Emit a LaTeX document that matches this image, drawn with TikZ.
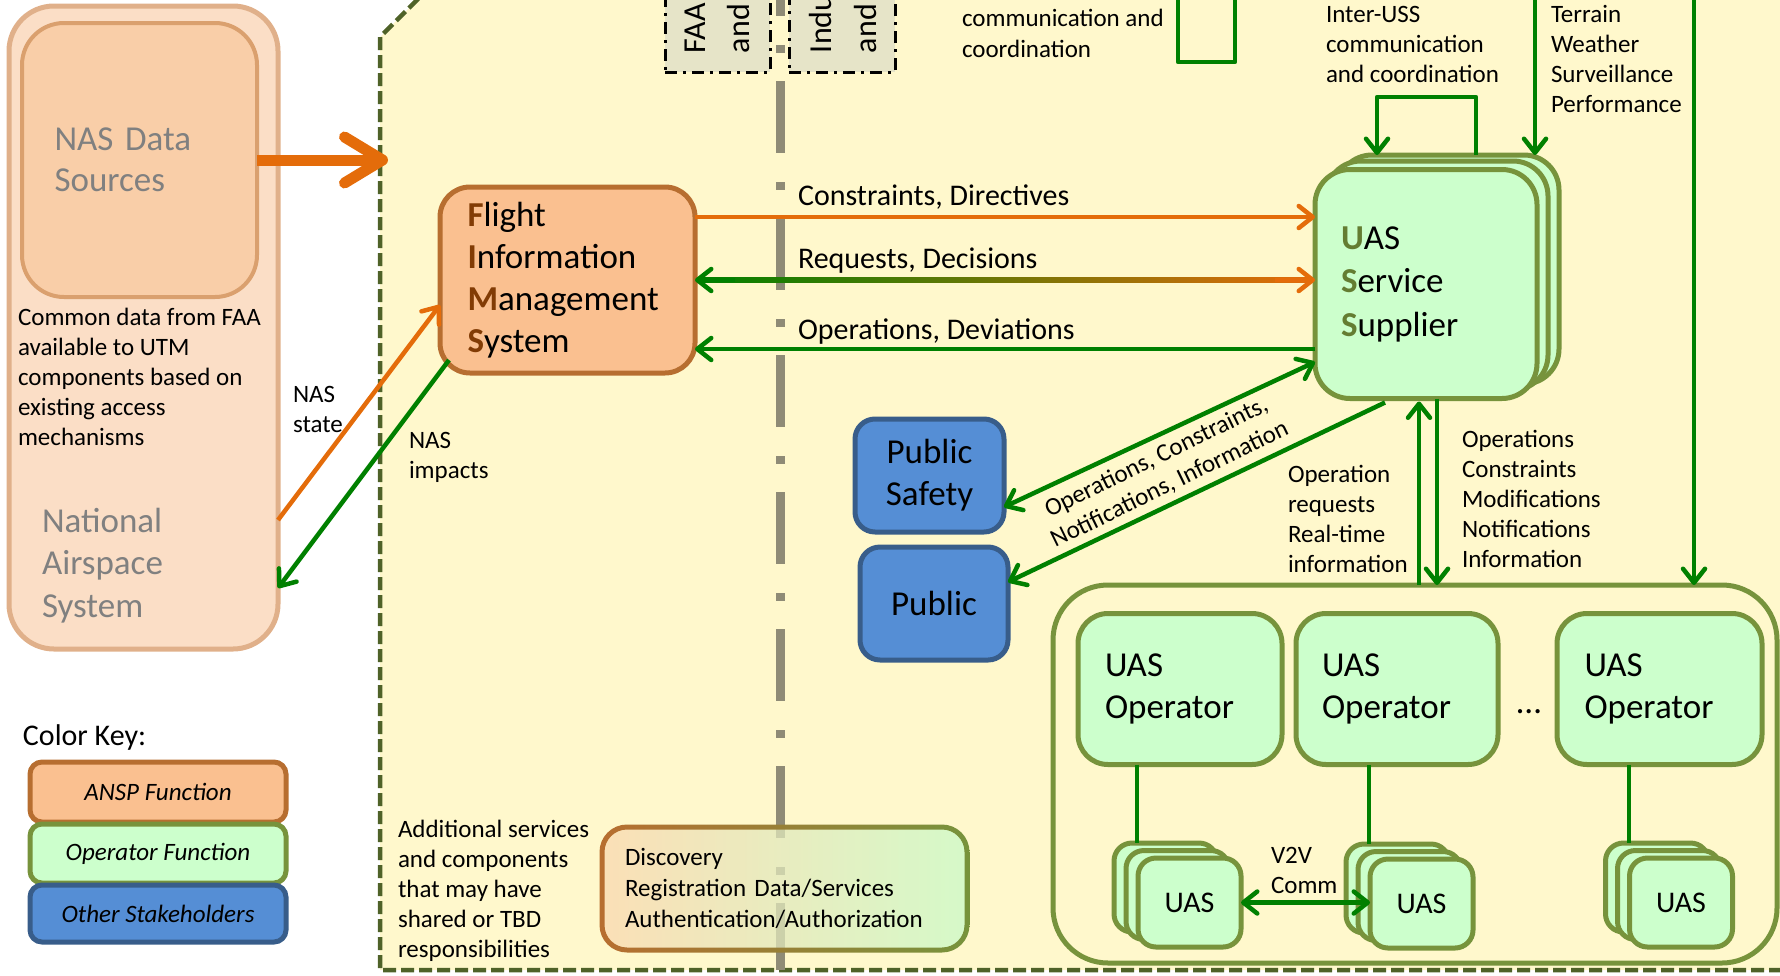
\documentclass[tikz,border=0pt]{standalone}
\usepackage{fontspec}
\setmainfont{Carlito}
\usetikzlibrary{arrows.meta,calc}
\definecolor{bgyellow}{RGB}{255,248,204}
\definecolor{dashgreen}{RGB}{79,98,40}
\definecolor{gline}{RGB}{0,128,0}
\definecolor{oline}{RGB}{228,108,10}
\definecolor{opfill}{RGB}{204,255,204}
\definecolor{opdraw}{RGB}{119,147,60}
\definecolor{anspfill}{RGB}{250,192,144}
\definecolor{anspdraw}{RGB}{183,110,48}
\definecolor{blfill}{RGB}{85,142,213}
\definecolor{bldraw}{RGB}{56,93,138}
\definecolor{nasfill}{RGB}{251,222,198}
\definecolor{nasdraw}{RGB}{224,176,138}
\definecolor{nasinfill}{RGB}{249,206,168}
\definecolor{nasindraw}{RGB}{218,160,110}
\definecolor{nastext}{RGB}{128,128,128}
\definecolor{greyline}{RGB}{143,139,118}
\definecolor{faafill}{RGB}{230,228,200}
\definecolor{initbrown}{RGB}{130,60,5}
\definecolor{initgreen}{RGB}{100,125,50}
\definecolor{discL}{RGB}{250,216,176}
\definecolor{discR}{RGB}{200,250,200}
\newcommand\fntL{\fontsize{35}{42}\selectfont}
\newcommand\fntM{\fontsize{30}{36}\selectfont}
\newcommand\fntS{\fontsize{25}{30}\selectfont}
\newcommand\fntR{\fontsize{32}{44}\selectfont}
\newcommand\iniF[1]{\textcolor{initbrown}{\textbf{#1}}}
\newcommand\iniU[1]{\textcolor{initgreen}{\textbf{#1}}}
\begin{document}
\begin{tikzpicture}[x=1pt,y=-1pt,
  >={Straight Barb[length=14pt,width=22pt,round]},
  every node/.style={inner sep=0pt, outer sep=0pt},
  conn/.style={line width=4.5pt, line join=round},
  gconn/.style={conn, draw=gline},
  oconn/.style={conn, draw=oline},
  rbox/.style={rectangle, line width=5pt, rounded corners=#1},
  rbox/.default=20pt,
  opbox/.style={rbox=#1, draw=opdraw, fill=opfill},
  uasbox/.style={opbox=18pt, minimum width=103pt, minimum height=89pt, font=\fntM},
  ussbox/.style={opbox=35pt, minimum width=222pt, minimum height=229pt},
  operbox/.style={opbox=30pt, minimum height=151pt, text width=150pt, align=left, font=\fntL},
  bluebox/.style={rbox=20pt, draw=bldraw, fill=blfill, minimum height=113pt, align=center, font=\fntL},
  keybox/.style={rbox=12pt, minimum width=256pt, font=\fntS\itshape},
  faabox/.style={rectangle, draw=black, line width=3pt, fill=faafill, dash pattern=on 12pt off 6pt on 3pt off 6pt, minimum height=82pt},
  rottxt/.style={rotate=90, anchor=base west, font=\fntR},
  txt/.style={anchor=base west, align=left, font=\fntS},
]
\useasboundingbox (0,0) rectangle (1780,975);
\clip (0,0) rectangle (1780,975);

% ---------------- NAS side ----------------
\node[rbox=45pt, draw=nasdraw, fill=nasfill, minimum width=269pt, minimum height=643pt] (nasout) at (143.5,327.5) {};
\node[rbox=42pt, line width=4pt, draw=nasindraw, fill=nasinfill, minimum width=235pt, minimum height=274pt,
      text width=170pt, align=left, font=\fontsize{35}{41}\selectfont, text=nastext] (nasin) at (139.5,160) {NAS Data\\Sources};
% (multi-line text nodes: base anchor = last line's baseline)
\node[txt] (common) at (18,445) {Common data from FAA\\available to UTM\\components based on\\existing access\\mechanisms};
\node[txt, font=\fontsize{35}{42.5}\selectfont, text=nastext] (national) at (42,617) {National\\Airspace\\System};

% ---------------- UTM area ----------------
\fill[bgyellow] (380,970) -- (380,37) -- (437,-20) -- (1800,-20) -- (1800,970) -- cycle;
\draw[dashgreen, line width=4.5pt, dash pattern=on 13pt off 5pt] (1800,970) -- (380,970) -- (380,37) -- (437,-20);

% FAA / Industry separation line
\coordinate (sepTop) at (780,0);
\coordinate (sepBot) at (780,970);
\draw[greyline, line width=9pt, dash pattern=on 72pt off 29pt on 8pt off 28pt, dash phase=56pt] (sepTop) -- (sepBot);

\node[faabox, minimum width=105pt] (faa) at (717.5,31) {};
\node[faabox, minimum width=106pt] (ind) at (842,31) {};
\node[rottxt] (faa1) at (705,53) {FAA};
\node[rottxt] (faa2) at (749,53) {and};
\node[rottxt] (ind1) at (831,53) {Industry};
\node[rottxt] (ind2) at (876,53) {and};

\node[txt, font=\fontsize{25}{31}\selectfont] (comm) at (962,57) {communication and\\coordination};
\coordinate (ua) at (1178,-10);
\coordinate (ub) at (1235,-10);
\draw[gconn] (ua) |- (1235,62) -- (ub);

% FIMS
\node[rbox=30pt, draw=anspdraw, fill=anspfill, minimum width=255pt, minimum height=186pt,
      text width=200pt, align=left, font=\fntL] (fims) at (567.5,280)
      {\iniF{F}light\\\iniF{I}nformation\\\iniF{M}anagement\\\iniF{S}ystem};

% USS stack
\node[ussbox] (uss3) at (1448,269.5) {};
\node[ussbox] (uss2) at (1437,275.5) {};
\node[ussbox, text width=170pt, align=left, font=\fontsize{35}{43.5}\selectfont] (uss) at (1426,284)
      {\iniU{U}AS\\\iniU{S}ervice\\\iniU{S}upplier};

% FIMS <-> USS
\coordinate (r1) at (0,217);
\coordinate (r2) at (0,280);
\coordinate (r3) at (0,349);
\draw[oconn,->] (fims.east |- r1) -- (uss.west |- r1);
\coordinate (rqL) at (fims.east |- r2);
\coordinate (rqR) at (uss.west |- r2);
\shade[left color=gline, right color=oline] ($(rqL)+(4,-2.25)$) rectangle ($(rqR)+(-4,2.25)$);
\draw[gconn,->] ($(rqL)+(40,0)$) -- (rqL);
\draw[oconn,->] ($(rqR)+(-40,0)$) -- (rqR);
\draw[gconn,->] (uss.west |- r3) -- (fims.east |- r3);
\node[txt, font=\fntM] (lcd) at (798,205) {Constraints, Directives};
\node[txt, font=\fntM] (lrd) at (798,268) {Requests, Decisions};
\node[txt, font=\fntM] (lod) at (798,339) {Operations, Deviations};

% top arrows into USS
\node[txt] (interuss) at (1326,82) {Inter-USS\\communication\\and coordination};
\coordinate (lx1) at (1377,0);
\coordinate (lx2) at (1476,0);
\draw[gconn,->] (uss3.north -| lx2) -- ++(0,-58) -| (uss3.north -| lx1);
\coordinate (tt) at (1535,-10);
\draw[gconn,->] (tt) -- (uss3.north -| tt);
\node[txt] (terrain) at (1551,112) {Terrain\\Weather\\Surveillance\\Performance};

% Public safety / public
\node[bluebox, minimum width=149pt] (pubs) at (929.5,475.5) {Public\\Safety};
\node[bluebox, minimum width=148pt] (pub) at (934,603.5) {Public};
\coordinate (p1) at (0,507);
\coordinate (p2) at (0,362);
\coordinate (p3) at (0,582);
\draw[gconn,<->] (pubs.east |- p1) -- (uss.west |- p2);
\draw[gconn,->] ($(uss.south)+(-41,4)$) -- (pub.east |- p3);
\node[rotate=26, align=center, font=\fntS] (plab) at (1163,471) {Operations, Constraints,\\Notifications, Information};

% Operators
\node[rbox=55pt, draw=opdraw, minimum width=724pt, minimum height=378pt] (ops) at (1415,774) {};
\coordinate (cx1) at (1419,0);
\coordinate (cx2) at (1437,0);
\draw[gconn,->] (ops.north -| cx1) -- ($(uss.south -| cx1)+(0,3)$);
\draw[gconn,->] (uss.south -| cx2) -- (ops.north -| cx2);
\node[txt] (opreq) at (1288,572) {Operation\\requests\\Real-time\\information};
\node[txt] (opinfo) at (1462,567) {Operations\\Constraints\\Modifications\\Notifications\\Information};
\coordinate (rl) at (1694,-10);
\draw[gconn,->] (rl) -- (ops.north -| rl);

\node[operbox, minimum width=204pt] (op1) at (1180,689) {UAS\\Operator};
\node[operbox, minimum width=202pt] (op2) at (1397,689) {UAS\\Operator};
\node[operbox, minimum width=205pt] (op3) at (1659.5,689) {UAS\\Operator};
\node[font=\fntL] (dots) at (1529,712) {\dots};

\node[uasbox] (uas1c) at (1165.5,887.5) {};
\node[uasbox] (uas1b) at (1177.5,895) {};
\node[uasbox] (uas1) at (1189.5,902.5) {UAS};
\node[uasbox] (uas2c) at (1397.5,888.5) {};
\node[uasbox] (uas2b) at (1409.5,896) {};
\node[uasbox] (uas2) at (1421.5,903.5) {UAS};
\node[uasbox] (uas3c) at (1657,887.5) {};
\node[uasbox] (uas3b) at (1669,895) {};
\node[uasbox] (uas3) at (1681,902.5) {UAS};
\coordinate (ox1) at (1137,0);
\coordinate (ox2) at (1369,0);
\coordinate (ox3) at (1629,0);
\draw[gconn] (op1.south -| ox1) -- (uas1c.north -| ox1);
\draw[gconn] (op2.south -| ox2) -- (uas2c.north -| ox2);
\draw[gconn] (op3.south -| ox3) -- (uas3c.north -| ox3);
\draw[gconn,<->] (uas1.east) -- (uas2.west |- uas1.east);
\node[txt] (v2v) at (1271,893) {V2V\\Comm};

% Color key
\node[anchor=base west, font=\fntM] (ckey) at (23,745) {Color Key:};
\node[keybox, draw=anspdraw, fill=anspfill, minimum height=60pt] (key1) at (158,792) {ANSP Function};
\node[keybox, draw=opdraw, fill=opfill, minimum height=59pt] (key2) at (158,853.5) {Operator Function};
\node[keybox, draw=bldraw, fill=blfill, minimum height=57pt] (key3) at (158,913.5) {Other Stakeholders};

% Additional services
\node[txt] (addl) at (398,957) {Additional services\\and components\\that may have\\shared or TBD\\responsibilities};
\node[rectangle, rounded corners=25pt, left color=discL, right color=discR, fill opacity=0.75, text opacity=1,
      minimum width=365pt, minimum height=123pt, text width=319pt, align=left,
      font=\fontsize{25}{31}\selectfont] (disc) at (784.5,888.5)
      {Discovery\\Registration Data/Services\\Authentication/Authorization};
\shade[left color=anspdraw, right color=opdraw, even odd rule]
  [rounded corners=27.5pt] ($(disc.north west)+(-2.5,-2.5)$) rectangle ($(disc.south east)+(2.5,2.5)$)
  [rounded corners=22.5pt] ($(disc.north west)+(2.5,2.5)$) rectangle ($(disc.south east)+(-2.5,-2.5)$);

% NAS arrows
\coordinate (bigtip) at (388,0);
\draw[oline, line width=11pt, -{Straight Barb[length=38pt,width=46pt,round]}] (nasin.east) -- (bigtip |- nasin.east);
\coordinate (rs) at (0,520);
\coordinate (rf) at (0,305);
\coordinate (ri) at (0,588);
\draw[oconn,->] (nasout.east |- rs) -- (fims.west |- rf);
\draw[gconn,->] ($(fims.south west)+(9,-13)$) -- (nasout.east |- ri);
\node[txt] (nasstate) at (293,432) {NAS\\state};
\node[txt] (nasimp) at (409,478) {NAS\\impacts};
\end{tikzpicture}
\end{document}
